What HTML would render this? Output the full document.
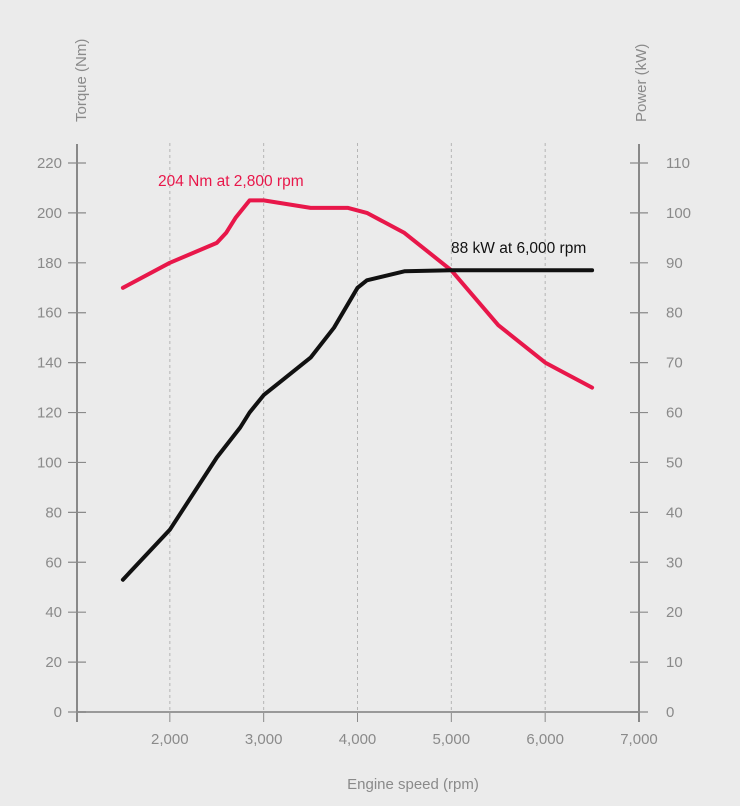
<!DOCTYPE html>
<html><head><meta charset="utf-8"><style>
html,body{margin:0;padding:0;background:#ebebeb;}
svg{display:block;font-family:"Liberation Sans",sans-serif;}
</style></head><body>
<svg id="chart" width="740" height="806" viewBox="0 0 740 806"></svg>
<script>
const rpmTicks=[2000,3000,4000,5000,6000,7000];
const rpmTickLabels=["2,000","3,000","4,000","5,000","6,000","7,000"];
const torqueTicks=[0,20,40,60,80,100,120,140,160,180,200,220];
const powerTicks=[0,10,20,30,40,50,60,70,80,90,100,110];
const torqueRpm=[1500,2000,2500,2600,2700,2850,3000,3500,3900,4100,4500,5000,5500,6000,6200,6500];
const torqueVals=[170,180,188,192,198,205,205,202,202,200,192,177,155,140,136,130];
const powerRpm=[1500,2000,2500,2750,2850,3000,3500,3750,4000,4100,4500,5000,5500,6000,6500];
const powerVals=[26.5,36.5,51,57,60,63.5,71,77,85,86.5,88.3,88.5,88.5,88.5,88.5];

const svg=document.getElementById('chart');
const NS='http://www.w3.org/2000/svg';
const X=r=>76+(r-1000)*(639-76)/6000;
const YT=v=>712-v*(712-163)/220;
const YP=v=>712-v*(712-163)/110;
function mk(tag,attrs,parent){const e=document.createElementNS(NS,tag);for(const k in attrs)e.setAttribute(k,attrs[k]);(parent||svg).appendChild(e);return e;}
const grey='#8a8a8a';
// grid
rpmTicks.forEach((r,i)=>{
  if(r<7000){const g=mk('line',{x1:X(r),x2:X(r),y1:143,y2:712,stroke:'#b5b5b5','stroke-width':1,'stroke-dasharray':'3,3'});
  
  }
  const t=mk('text',{x:X(r),y:744,'text-anchor':'middle','font-size':15,fill:grey});
  t.textContent=rpmTickLabels[i];
  
  
  const tk=mk('line',{x1:X(r),x2:X(r),y1:712,y2:722,stroke:grey,'stroke-width':1});
  
  
});
// axes
const ax=mk('line',{x1:76,x2:639,y1:712,y2:712,stroke:'#999','stroke-width':2});

const la=mk('line',{x1:77,x2:77,y1:144,y2:722,stroke:'#888','stroke-width':2});

const ra=mk('line',{x1:639,x2:639,y1:144,y2:722,stroke:'#888','stroke-width':2});

torqueTicks.forEach(v=>{
  const l=mk('line',{x1:68,x2:86,y1:YT(v),y2:YT(v),stroke:grey,'stroke-width':1.2});
  
  const t=mk('text',{x:62,y:YT(v)+5,'text-anchor':'end','font-size':15,fill:grey});
  t.textContent=v;
  
});
powerTicks.forEach(v=>{
  const l=mk('line',{x1:630,x2:648,y1:YP(v),y2:YP(v),stroke:grey,'stroke-width':1.2});
  
  const t=mk('text',{x:666,y:YP(v)+5,'text-anchor':'start','font-size':15,fill:grey});
  t.textContent=v;
  
});
// titles
let t=mk('text',{x:0,y:0,transform:'translate(86,122) rotate(-90)','font-size':15,fill:grey});
t.textContent='Torque (Nm)';
t=mk('text',{x:0,y:0,transform:'translate(646,122) rotate(-90)','font-size':15,fill:grey});
t.textContent='Power (kW)';
t=mk('text',{x:413,y:789,'text-anchor':'middle','font-size':15,fill:grey});
t.textContent='Engine speed (rpm)';
// series
let d=torqueRpm.map((r,i)=>(i?'L':'M')+X(r).toFixed(1)+','+YT(torqueVals[i]).toFixed(1)).join(' ');
let p=mk('path',{d:d,fill:'none',stroke:'#e8174a','stroke-width':4,'stroke-linejoin':'round','stroke-linecap':'round'});

d=powerRpm.map((r,i)=>(i?'L':'M')+X(r).toFixed(1)+','+YP(powerVals[i]).toFixed(1)).join(' ');
p=mk('path',{d:d,fill:'none',stroke:'#111','stroke-width':4,'stroke-linejoin':'round','stroke-linecap':'round'});

t=mk('text',{x:158,y:186,'font-size':15.5,fill:'#e8174a'});
t.textContent='204 Nm at 2,800 rpm';
t=mk('text',{x:451,y:253,'font-size':15.5,fill:'#111'});
t.textContent='88 kW at 6,000 rpm';
</script>
</body></html>
